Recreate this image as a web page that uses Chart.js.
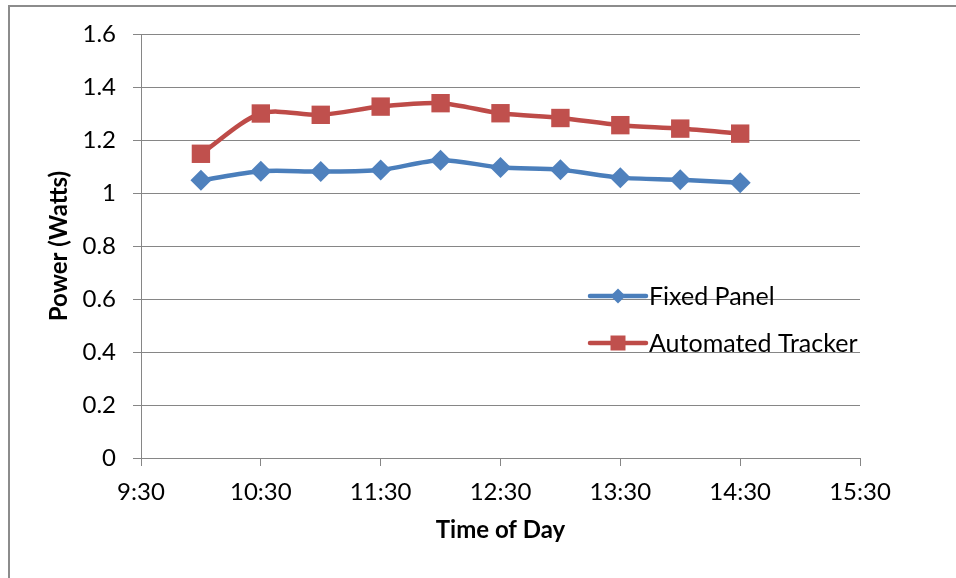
<!DOCTYPE html>
<html>
<head>
<meta charset="utf-8">
<script src="https://cdn.jsdelivr.net/npm/chart.js@4/dist/chart.umd.min.js"></script>
<style>
  html, body { margin: 0; padding: 0; background: #ffffff; }
  #wrap { position: relative; width: 956px; height: 578px; overflow: hidden; }
  #frame { position: absolute; left: 8px; top: 5px; right: -10px; bottom: -10px;
           border-left: 2px solid #8c8c8c; border-top: 2px solid #8c8c8c; pointer-events: none; }
  canvas { position: absolute; left: 0; top: 0; }
</style>
</head>
<body>
<div id="wrap">
  <canvas id="c" width="956" height="578"></canvas>
  <div id="frame"></div>
</div>
<script>
// Times as hours of the day (10.0 = 10:00, 10.5 = 10:30, ...)
const timeOfDay = [10.0, 10.5, 11.0, 11.5, 12.0, 12.5, 13.0, 13.5, 14.0, 14.5];
const fixedPanel = [1.048, 1.082, 1.081, 1.087, 1.124, 1.096, 1.088, 1.058, 1.050, 1.039];
const automatedTracker = [1.148, 1.300, 1.295, 1.326, 1.339, 1.301, 1.283, 1.256, 1.243, 1.224];
const xTickLabels = ['9:30', '10:30', '11:30', '12:30', '13:30', '14:30', '15:30'];
const seriesNames = ['Fixed Panel', 'Automated Tracker'];
const xTitle = 'Time of Day';
const yTitle = 'Power (Watts)';

const BLUE_LINE = '#4A7EBB', BLUE_FILL = '#4F81BD';
const RED_LINE = '#BE4B48', RED_FILL = '#C0504D';
const GRID = '#868686';
const FONT = 'Lato';

Chart.defaults.font.family = FONT;
Chart.defaults.color = '#000000';

function toPoints(xs, ys) { return xs.map((x, i) => ({ x: x, y: ys[i] })); }

const legendPlugin = {
  id: 'insideLegend',
  afterDraw(chart) {
    const ctx = chart.ctx;
    const a = chart.chartArea;
    const rows = [a.top + 262, a.top + 309];
    const x0 = a.left + 449, x1 = a.left + 505, mx = a.left + 477, tx = a.left + 508;
    chart.data.datasets.forEach((ds, i) => {
      const y = rows[i];
      ctx.save();
      ctx.strokeStyle = ds.borderColor;
      ctx.lineWidth = 4.5;
      ctx.lineCap = 'round';
      ctx.beginPath(); ctx.moveTo(x0, y); ctx.lineTo(x1, y); ctx.stroke();
      ctx.fillStyle = ds.pointBackgroundColor;
      ctx.beginPath();
      if (ds.pointStyle === 'rectRot') {
        const r = 7.5;
        ctx.moveTo(mx, y - r); ctx.lineTo(mx + r, y); ctx.lineTo(mx, y + r); ctx.lineTo(mx - r, y);
        ctx.closePath();
      } else {
        const s = 7.5;
        ctx.rect(mx - s, y - s, 2 * s, 2 * s);
      }
      ctx.fill();
      ctx.fillStyle = '#000000';
      ctx.font = '25px ' + FONT;
      ctx.textBaseline = 'middle';
      ctx.textAlign = 'left';
      ctx.fillText(ds.label, tx, y + 1);
      ctx.restore();
    });
  }
};

new Chart(document.getElementById('c'), {
  type: 'line',
  data: {
    datasets: [
      {
        label: seriesNames[0],
        data: toPoints(timeOfDay, fixedPanel),
        borderColor: BLUE_LINE,
        backgroundColor: BLUE_FILL,
        pointBackgroundColor: BLUE_FILL,
        pointBorderColor: BLUE_FILL,
        pointStyle: 'rectRot',
        pointRadius: 10.5,
        pointBorderWidth: 0,
        borderWidth: 4.5,
        tension: 0.3,
        fill: false
      },
      {
        label: seriesNames[1],
        data: toPoints(timeOfDay, automatedTracker),
        borderColor: RED_LINE,
        backgroundColor: RED_FILL,
        pointBackgroundColor: RED_FILL,
        pointBorderColor: RED_FILL,
        pointStyle: 'rect',
        pointRadius: 13,
        pointBorderWidth: 0,
        borderWidth: 4.5,
        tension: 0.3,
        fill: false
      }
    ]
  },
  options: {
    responsive: false,
    animation: false,
    layout: { padding: { top: 34, right: 96, left: 0, bottom: 0 } },
    plugins: { legend: { display: false }, tooltip: { enabled: false } },
    scales: {
      x: {
        type: 'linear',
        min: 9.5, max: 15.5,
        afterBuildTicks(scale) {
          scale.ticks = xTickLabels.map((_, i) => ({ value: 9.5 + i }));
        },
        afterFit(scale) { scale.height = 120; },
        ticks: {
          autoSkip: false, maxRotation: 0, padding: 12,
          font: { size: 24 },
          callback(value, index) { return xTickLabels[index]; }
        },
        grid: { drawOnChartArea: false, drawTicks: true, tickLength: 8, color: GRID, lineWidth: 1 },
        border: { display: true, color: GRID, width: 1 },
        title: { display: true, text: xTitle, font: { size: 24, weight: 'bold' }, padding: { top: 0, bottom: 33 } }
      },
      y: {
        min: 0, max: 1.6,
        afterFit(scale) { scale.width = 141; },
        ticks: {
          stepSize: 0.2, padding: 17,
          font: { size: 24 },
          callback(value) { return Math.round(value * 10) / 10; }
        },
        grid: { color: GRID, lineWidth: 1, tickLength: 8 },
        border: { display: true, color: GRID, width: 1 },
        title: { display: true, text: yTitle, font: { size: 24, weight: 'bold' }, padding: { top: 45, bottom: 0 } }
      }
    }
  },
  plugins: [legendPlugin]
});
</script>
</body>
</html>
